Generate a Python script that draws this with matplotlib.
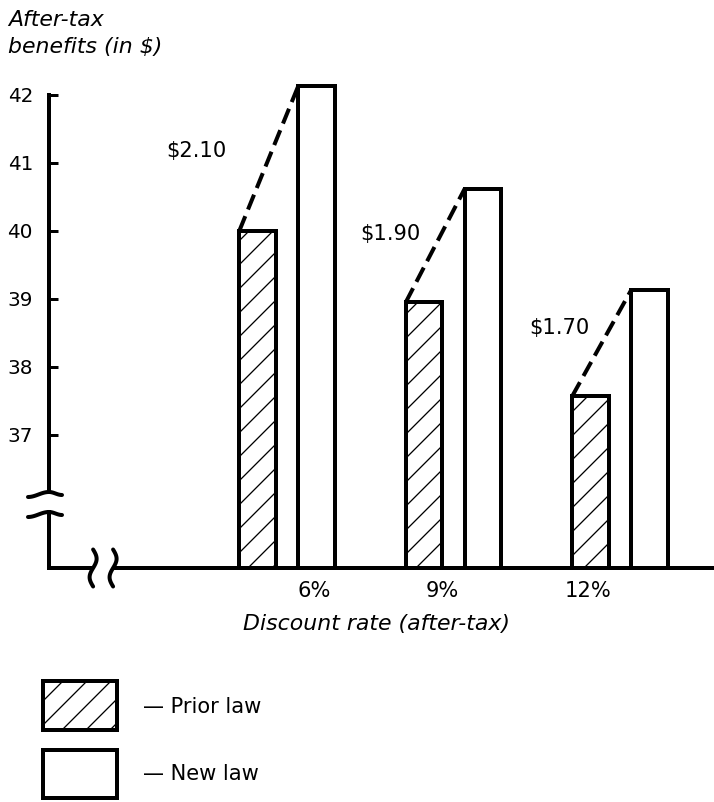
# After-tax benefits under prior vs new law, by after-tax discount rate
import numpy as np
import matplotlib
matplotlib.use('Agg')
import matplotlib.pyplot as plt
import matplotlib.transforms as mtransforms
from matplotlib.patches import Rectangle

# Data
rates = ['6%', '9%', '12%']
prior_law = [40.0, 38.95, 37.57]
new_law = [42.13, 40.62, 39.13]
gain_labels = ['\\$2.10', '\\$1.90', '\\$1.70']
yticks = [37, 38, 39, 40, 41, 42]

# Layout (label spots in data units)
tick_x = [0.162, 0.931, 1.808]
gain_x = [-0.547, 0.619, 1.634]
gain_y = [41.18, 39.96, 38.57]

W, H, DPI = 714, 802, 72
plt.rcParams['font.family'] = ['DejaVu Sans']
plt.rcParams['hatch.linewidth'] = 1.3

fig = plt.figure(figsize=(W / DPI, H / DPI), dpi=DPI)


def fx(px):
    return px / W


def fy(py):
    return 1 - py / H


ybot, ytop = 35.044, 42.25
ax = fig.add_axes([fx(49), fy(568), fx(714) - fx(49), fy(78) - fy(568)])
ax.set_xlim(-1.43, 2.565)
ax.set_ylim(ybot, ytop)

x = np.arange(len(rates))
off, bw = 0.177, 0.22
prior_x = x - off
new_x = x + off

ax.bar(prior_x, np.array(prior_law) - ybot, bw, bottom=ybot, facecolor='white',
       edgecolor='black', hatch='/', linewidth=4, zorder=3)
ax.bar(new_x, np.array(new_law) - ybot, bw, bottom=ybot, facecolor='white',
       edgecolor='black', linewidth=4, zorder=3)

# dashed connectors from prior-law top to new-law top, with the gain
for i in range(len(rates)):
    ax.plot([prior_x[i] - bw / 2, new_x[i] - bw / 2], [prior_law[i], new_law[i]],
            color='black', lw=4, linestyle=(0, (4, 1.8)), dash_capstyle='butt', zorder=4)
    ax.text(gain_x[i], gain_y[i], gain_labels[i], ha='center', va='center', fontsize=21)

# axes styling
for s in ['top', 'right', 'left']:
    ax.spines[s].set_visible(False)
ax.spines['bottom'].set_linewidth(4)

ax.set_yticks(yticks)
ax.tick_params(axis='y', direction='in', length=9, width=3, pad=16, labelsize=20)
ax.set_xticks(tick_x, rates)
ax.tick_params(axis='x', length=0, pad=13, labelsize=21)

# broken y axis
y_up = 42 - (492 - 95) / 68
y_lo = 42 - (512 - 95) / 68
ytrans = ax.get_yaxis_transform()
ax.plot([0, 0], [y_up, 42], transform=ytrans, color='black', lw=4,
        solid_capstyle='projecting', clip_on=False)
ax.plot([0, 0], [ybot, y_lo], transform=ytrans, color='black', lw=4,
        solid_capstyle='projecting', clip_on=False)

dx = np.linspace(-21, 13, 60)
dy = np.where(dx < 0, -5 * (1 - np.cos(np.pi * dx / 21)) / 2, -3 * (1 - np.cos(np.pi * dx / 13)) / 2)
for yc in (y_up, y_lo):
    tr = fig.dpi_scale_trans + mtransforms.ScaledTranslation(0, yc, ytrans)
    ax.plot(dx / DPI, dy / DPI, transform=tr, color='black', lw=4,
            solid_capstyle='round', clip_on=False, zorder=6)

# broken x axis
xb = [-1.165, -1.045]
ax.plot(xb, [ybot, ybot], color='white', lw=8, zorder=5, clip_on=False,
        solid_capstyle='butt')
t = np.linspace(0, 1, 60)
sy = (0.5 - t) * 37
sx = 3.5 * np.sin(2 * np.pi * t)
for xc in xb:
    tr = fig.dpi_scale_trans + mtransforms.ScaledTranslation(xc, ybot, ax.transData)
    ax.plot(sx / DPI, sy / DPI, transform=tr, color='black', lw=4,
            solid_capstyle='round', clip_on=False, zorder=6)

# axis titles
fig.text(fx(8), fy(26), 'After-tax', fontsize=22, style='italic', va='baseline')
fig.text(fx(8), fy(53), 'benefits (in \\$)', fontsize=22, style='italic', va='baseline')
fig.text(fx(376.5), fy(630), 'Discount rate (after-tax)', fontsize=22, style='italic',
         ha='center', va='baseline')

# legend
fig.add_artist(Rectangle((fx(43), fy(730)), fx(117) - fx(43), fy(681) - fy(730),
                         transform=fig.transFigure, facecolor='white', edgecolor='black',
                         hatch='/', lw=4))
fig.add_artist(Rectangle((fx(43), fy(798)), fx(117) - fx(43), fy(750) - fy(798),
                         transform=fig.transFigure, facecolor='white', edgecolor='black',
                         lw=4))
fig.text(fx(143), fy(713), '— Prior law', fontsize=21, va='baseline')
fig.text(fx(143), fy(780), '— New law', fontsize=21, va='baseline')

fig.savefig('out.png', dpi=DPI, facecolor='white')
